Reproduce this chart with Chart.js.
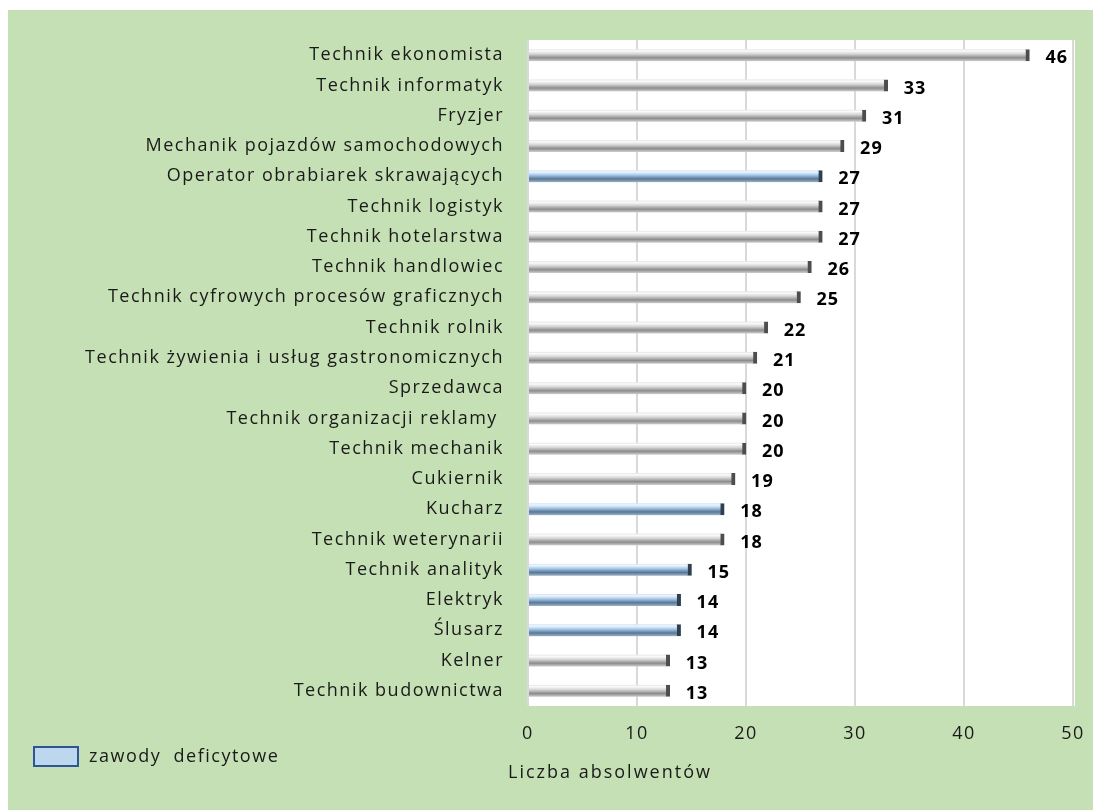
<!DOCTYPE html>
<html><head><meta charset="utf-8">
<script src="https://cdn.jsdelivr.net/npm/chart.js@4.4.0/dist/chart.umd.min.js"></script>
<style>html,body{margin:0;padding:0;background:#fff;}#wrap{width:1093px;height:810px;}</style>
</head><body><div id="wrap"><canvas id="c" width="1093" height="810"></canvas></div>
<script>
const categories = ["Technik ekonomista","Technik informatyk","Fryzjer","Mechanik pojazdów samochodowych","Operator obrabiarek skrawających","Technik logistyk","Technik hotelarstwa","Technik handlowiec","Technik cyfrowych procesów graficznych","Technik rolnik","Technik żywienia i usług gastronomicznych","Sprzedawca","Technik organizacji reklamy ","Technik mechanik","Cukiernik","Kucharz","Technik weterynarii","Technik analityk","Elektryk","Ślusarz","Kelner","Technik budownictwa"];
const graduates = [46,33,31,29,27,27,27,26,25,22,21,20,20,20,19,18,18,15,14,14,13,13];
const deficit = [false,false,false,false,true,false,false,false,false,false,false,false,false,false,false,true,false,true,true,true,false,false];
const xTicks = [0,10,20,30,40,50];
const axisTitle = "Liczba absolwentów";
const legendLabel = "zawody  deficytowe";

const FONT = "'Open Sans', 'Noto Sans', sans-serif";

function barGradient(ctx){
  const chart = ctx.chart;
  const ys = chart.scales.y;
  const isDef = ctx.type === 'data' && deficit[ctx.dataIndex];
  const flat = isDef ? '#8fb4d8' : '#b0b0b0';
  if(!ys || ctx.type !== 'data') return flat;
  const y = ys.getPixelForValue(ctx.dataIndex);
  if(!isFinite(y)) return flat;
  const g = chart.ctx.createLinearGradient(0, y-6, 0, y+6);
  if(isDef){
    g.addColorStop(0,'#d2e4f5'); g.addColorStop(0.15,'#eef6fd'); g.addColorStop(0.4,'#a6c9ea'); g.addColorStop(0.72,'#5a7793'); g.addColorStop(1,'#9ab3cb');
  } else {
    g.addColorStop(0,'#e4e4e4'); g.addColorStop(0.15,'#fbfbfb'); g.addColorStop(0.4,'#d6d6d6'); g.addColorStop(0.72,'#8c8c8c'); g.addColorStop(1,'#cfcfcf');
  }
  return g;
}

const bgPlugin = {
  id:'bg',
  beforeDraw(chart){
    const c = chart.ctx, a = chart.chartArea;
    c.save();
    c.fillStyle='#ffffff'; c.fillRect(0,0,chart.width,chart.height);
    c.fillStyle='#c5e0b4'; c.fillRect(8,10,chart.width-8,chart.height-10);
    c.fillStyle='#ffffff'; c.fillRect(a.left, a.top, a.right-a.left+2, a.bottom-a.top);
    c.restore();
    c.letterSpacing = '1.5px';
  },
  afterDraw(chart){
    const c = chart.ctx;
    c.save();
    c.letterSpacing = '2px';
    c.fillStyle='#1a1a1a';
    c.font = "18px " + FONT;
    c.textAlign='left'; c.textBaseline='middle';
    c.fillText(axisTitle, 508, 773);
    c.fillStyle='#bdd7ee'; c.fillRect(34,747,44,19);
    c.strokeStyle='#2f5597'; c.lineWidth=2; c.strokeRect(34,747,44,19);
    c.fillStyle='#1a1a1a';
    c.letterSpacing = '1.5px';
    c.fillText(legendLabel, 89, 757);
    c.restore();
  },
  afterDatasetsDraw(chart){
    const c = chart.ctx;
    const meta = chart.getDatasetMeta(0);
    c.save();
    c.font = "bold 18px " + FONT;
    c.letterSpacing = '1px';
    c.fillStyle='#000';
    c.textAlign='left'; c.textBaseline='middle';
    meta.data.forEach((bar,i)=>{
      c.fillText(String(graduates[i]), bar.x + 16, bar.y + 3);
    });
    c.restore();
  }
};

new Chart(document.getElementById('c'), {
  type:'bar',
  data:{
    labels: categories,
    datasets:[{
      data: graduates,
      backgroundColor: barGradient,
      borderColor: ctx => (ctx.type==='data' && deficit[ctx.dataIndex]) ? '#2f3f4f' : '#4d4d4d',
      borderWidth: {top:0,bottom:0,left:0,right:4},
      borderSkipped: false,
      barThickness: 12
    }]
  },
  options:{
    indexAxis:'y',
    responsive:false,
    animation:false,
    devicePixelRatio:1,
    layout:{padding:{left:0,right:20,top:40,bottom:0}},
    plugins:{legend:{display:false}, tooltip:{enabled:false}},
    scales:{
      x:{
        min:0,max:50,
        afterBuildTicks(scale){ scale.ticks = xTicks.map(v=>({value:v})); },
        grid:{color:'#d9d9d9', lineWidth:2, drawTicks:false},
        border:{display:false},
        ticks:{color:'#1a1a1a', font:{family:FONT,size:18}, padding:17},
        afterFit(scale){ scale.height = 104; scale.paddingRight = 0; scale.paddingLeft = 0; }
      },
      y:{
        grid:{display:false, drawTicks:false},
        border:{display:false},
        ticks:{color:'#1a1a1a', font:{family:FONT,size:18}, padding:24, autoSkip:false},
        afterFit(scale){ scale.width = 528; scale.paddingTop = 0; scale.paddingBottom = 0; }
      }
    }
  },
  plugins:[bgPlugin]
});
</script></body></html>
